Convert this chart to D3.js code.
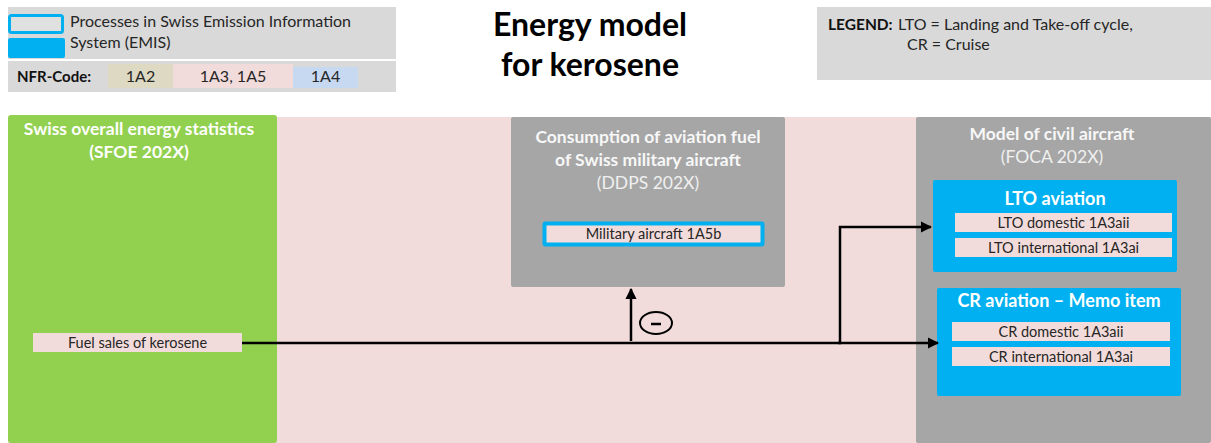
<!DOCTYPE html>
<html>
<head>
<meta charset="utf-8">
<script src="https://cdn.jsdelivr.net/npm/d3@7"></script>
<style>
  body { margin: 0; background: #fff; }
  svg { display: block; font-family: Lato, "Open Sans", sans-serif; }
</style>
</head>
<body>
<svg id="chart" width="1211" height="443"></svg>
<script>
// texts of the diagram
const titleLines = ["Energy model", "for kerosene"];
const emisLegend = ["Processes in Swiss Emission Information", "System (EMIS)"];
const nfrCodes = ["1A2", "1A3, 1A5", "1A4"];
const legendLines = ["LTO = Landing and Take-off cycle,", "CR = Cruise"];
const sourceTitle = ["Swiss overall energy statistics", "(SFOE 202X)"];
const militaryTitle = ["Consumption of aviation fuel", "of Swiss military aircraft"];
const militarySource = "(DDPS 202X)";
const civilTitle = "Model of civil aircraft";
const civilSource = "(FOCA 202X)";
const ltoItems = ["LTO domestic 1A3aii", "LTO international 1A3ai"];
const crItems = ["CR domestic 1A3aii", "CR international 1A3ai"];
const fuelItem = "Fuel sales of kerosene";
const militaryItem = "Military aircraft 1A5b";

// colours
const col = {
  grey: "#d9d9d9", dark: "#a6a6a6", green: "#92d050", pink: "#f2dcdb",
  tan: "#ddd9c3", lightBlue: "#c6d9f1", blue: "#00b0f0", text: "#262626"
};
const nfrColor = d3.scaleOrdinal().domain(nfrCodes).range([col.tan, col.pink, col.lightBlue]);

const svg = d3.select("#chart");

/** plain rectangle helper */
function box(x, y, w, h, fill, extra) {
  const r = svg.append("rect").attr("x", x).attr("y", y).attr("width", w).attr("height", h).attr("fill", fill);
  if (extra) Object.entries(extra).forEach(([k, v]) => r.attr(k, v));
  return r;
}
/** text helper */
function label(str, x, y, size, opts) {
  opts = opts || {};
  return svg.append("text").attr("x", x).attr("y", y)
    .attr("font-size", size)
    .attr("font-weight", opts.bold ? 700 : 400)
    .attr("text-anchor", opts.anchor || "middle")
    .attr("fill", opts.fill || col.text)
    .text(str);
}

// ---- header: EMIS legend ----
box(8, 7, 388, 52, col.grey);
box(8, 61, 388, 31, col.grey);
box(9.5, 15.5, 53, 17, "#e0e0e0", { stroke: col.blue, "stroke-width": 3, rx: 2 });
box(8, 38, 57, 20, col.blue, { rx: 2 });
emisLegend.forEach((t, i) => label(t, 70, 27 + i * 21, 16, { anchor: "start" }));

label("NFR-Code:", 17, 82, 15, { anchor: "start", bold: true, fill: "#111" });
const nfrX = d3.scaleOrdinal().domain(nfrCodes).range([108, 173, 293]);
const nfrW = d3.scaleOrdinal().domain(nfrCodes).range([65, 120, 65]);
svg.selectAll("rect.nfr").data(nfrCodes).join("rect").attr("class", "nfr")
  .attr("x", d => nfrX(d)).attr("y", (d, i) => i === 2 ? 67 : 64)
  .attr("width", d => nfrW(d)).attr("height", (d, i) => i === 2 ? 21 : 24)
  .attr("fill", d => nfrColor(d));
svg.selectAll("text.nfr").data(nfrCodes).join("text").attr("class", "nfr")
  .attr("x", d => nfrX(d) + nfrW(d) / 2).attr("y", 82)
  .attr("text-anchor", "middle").attr("font-size", 16).attr("fill", col.text)
  .text(d => d);

// ---- title ----
titleLines.forEach((t, i) => label(t, 590, 36 + i * 40, 32, { bold: true, fill: "#000" }));

// ---- LTO / CR legend ----
box(817, 7, 394, 73, col.grey);
label("LEGEND:", 828, 30, 15.5, { anchor: "start", bold: true, fill: "#111" });
label(legendLines[0], 898, 30, 16, { anchor: "start" });
label(legendLines[1], 907, 50, 16, { anchor: "start" });

// ---- main area ----
box(8, 117, 1203, 326, col.pink);

// source: energy statistics
box(8, 115, 269, 328, col.green, { rx: 3 });
sourceTitle.forEach((t, i) => label(t, 139, 135 + i * 23, 17.5, { bold: true, fill: "#fff" }));
box(33, 333, 209, 19, col.pink);
label(fuelItem, 137.5, 348, 14.5);

// military aircraft
box(511, 117, 274, 170, col.dark, { rx: 2 });
militaryTitle.forEach((t, i) => label(t, 648, 143 + i * 23, 17.5, { bold: true, fill: "#f7f7f7" }));
label(militarySource, 648, 189, 17.5, { fill: "#f0f0f0" });
box(544.5, 223.5, 218, 21, col.pink, { stroke: col.blue, "stroke-width": 4, rx: 1 });
label(militaryItem, 653.5, 239, 14.5);

// civil aircraft
box(916, 117, 295, 326, col.dark, { rx: 2 });
label(civilTitle, 1052, 140, 17.5, { bold: true, fill: "#f7f7f7" });
label(civilSource, 1052, 163, 17.5, { fill: "#f0f0f0" });

/** blue group box with pink rows */
function group(x, y, w, h, title, titleDy, items, rowX, rowW, rowY0) {
  box(x, y, w, h, col.blue, { rx: 2 });
  label(title, x + w / 2, y + titleDy, 18, { bold: true, fill: "#fff" });
  const rowY = d3.scaleBand().domain(items).range([rowY0, rowY0 + 44]).paddingInner(0.24);
  svg.selectAll(null).data(items).join("rect")
    .attr("x", rowX).attr("y", d => rowY(d)).attr("width", rowW).attr("height", rowY.bandwidth())
    .attr("fill", col.pink);
  svg.selectAll(null).data(items).join("text")
    .attr("x", rowX + rowW / 2).attr("y", d => rowY(d) + rowY.bandwidth() / 2 + 5)
    .attr("text-anchor", "middle").attr("font-size", 14.5).attr("fill", col.text)
    .text(d => d);
}
group(933, 180, 244, 92, "LTO aviation", 25, ltoItems, 955, 217, 213);
group(937, 288, 244, 108, "CR aviation \u2013 Memo item", 19, crItems, 952, 218, 322);

// ---- arrows ----
const defs = svg.append("defs");
defs.append("marker").attr("id", "arrow").attr("viewBox", "0 0 10 10")
  .attr("refX", 9).attr("refY", 5).attr("markerWidth", 4.5).attr("markerHeight", 4.5)
  .attr("markerUnits", "strokeWidth").attr("orient", "auto")
  .append("path").attr("d", "M0,0 L10,5 L0,10 z").attr("fill", "#000");

const line = d3.line();
const flows = [
  [[242, 343], [938, 343]],
  [[838, 343], [840, 343], [840, 227], [931, 227]],
  [[631, 341], [631, 289]]
];
svg.selectAll("path.flow").data(flows).join("path").attr("class", "flow")
  .attr("d", d => line(d)).attr("fill", "none").attr("stroke", "#000")
  .attr("stroke-width", 2.5).attr("marker-end", "url(#arrow)");

// minus sign
svg.append("ellipse").attr("cx", 656).attr("cy", 323).attr("rx", 16).attr("ry", 11)
  .attr("fill", "none").attr("stroke", "#000").attr("stroke-width", 2);
svg.append("line").attr("x1", 651).attr("x2", 661).attr("y1", 324).attr("y2", 324)
  .attr("stroke", "#000").attr("stroke-width", 2.5);
</script>
</body>
</html>
